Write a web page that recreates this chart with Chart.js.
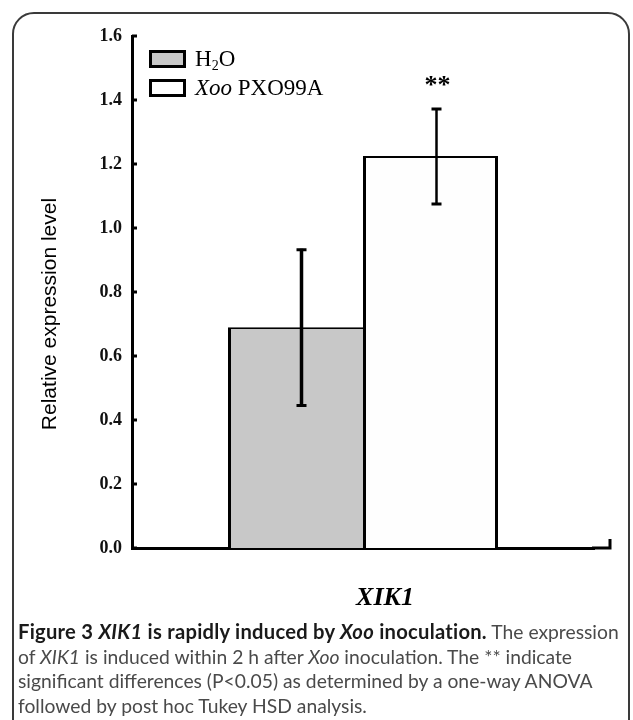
<!DOCTYPE html>
<html>
<head>
<meta charset="utf-8">
<script src="https://cdn.jsdelivr.net/npm/chart.js@4.4.0/dist/chart.umd.min.js"></script>
<style>
    html, body { margin: 0; padding: 0; background: #fff; width: 633px; height: 720px; overflow: hidden; }
    #frame {
        position: absolute; left: 12px; top: 12px; width: 618px; height: 780px;
        border: 2px solid #3a3a3a; border-radius: 22px; box-sizing: border-box;
    }
    #wrap { position: absolute; left: 0; top: 0; width: 633px; height: 620px; }
    .lbox {
        position: absolute; left: 149px; width: 37px; height: 18px;
        border: 3px solid #000; box-sizing: border-box;
    }
    .ltext {
        position: absolute; left: 195px; font-family: "Liberation Serif", serif;
        font-size: 23px; line-height: 22px; color: #000; white-space: nowrap;
    }
    .ltext sub { font-size: 14px; vertical-align: -4px; line-height: 0; }
    #caption {
        position: absolute; left: 18px; top: 619px; font-family: Lato, sans-serif;
        font-size: 19.3px; line-height: 24.5px; color: #4a4a4a; white-space: nowrap;
    }
    #caption b { color: #1a1a1a; font-size: 20.2px; letter-spacing: 0.25px; }
</style>
</head>
<body>
<div id="frame"></div>
<div id="wrap"><canvas id="chart" width="633" height="620"></canvas></div>

<div class="lbox" style="top:50px; background:#c8c8c8;"></div>
<div class="lbox" style="top:79px; background:#fff;"></div>
<div class="ltext" style="top:48px;">H<sub>2</sub>O</div>
<div class="ltext" style="top:77px;"><i>Xoo</i> PXO99A</div>

<div id="caption">
    <div><b>Figure 3 <i>XIK1</i> is rapidly induced by <i>Xoo</i> inoculation.</b> The expression</div>
    <div>of <i>XIK1</i> is induced within 2 h after <i>Xoo</i> inoculation. The ** indicate</div>
    <div>significant differences (P&lt;0.05) as determined by a one-way ANOVA</div>
    <div>followed by post hoc Tukey HSD analysis.</div>
</div>

<script>
// values
const categories = ['XIK1'];
const seriesNames = ['H2O', 'Xoo PXO99A'];
const h2oValues = [0.69];
const h2oErrors = [0.245];
const xooValues = [1.225];
const xooErrors = [0.15];
const yTicks = [0, 0.2, 0.4, 0.6, 0.8, 1.0, 1.2, 1.4, 1.6];
const yTitle = 'Relative expression level';
const marks = ['', '**'];

// error bars, inward ticks and the loose texts
const extrasPlugin = {
    id: 'extras',
    afterDatasetsDraw(chart) {
        const ctx = chart.ctx;
        const y = chart.scales.y;
        const errs = [h2oErrors, xooErrors];
        const vals = [h2oValues, xooValues];
        ctx.save();
        ctx.strokeStyle = '#000';
        chart.data.datasets.forEach((ds, di) => {
            const meta = chart.getDatasetMeta(di);
            meta.data.forEach((bar, i) => {
                const x = bar.x + 6;
                const top = y.getPixelForValue(vals[di][i] + errs[di][i]);
                const bot = y.getPixelForValue(vals[di][i] - errs[di][i]);
                ctx.lineWidth = di === 0 ? 3.5 : 2.5;
                ctx.beginPath();
                ctx.moveTo(x, top);
                ctx.lineTo(x, bot);
                ctx.stroke();
                ctx.lineWidth = 3;
                ctx.beginPath();
                ctx.moveTo(x - 5, top + 1);
                ctx.lineTo(x + 5, top + 1);
                ctx.moveTo(x - 5, bot);
                ctx.lineTo(x + 5, bot);
                ctx.stroke();
                if (marks[di]) {
                    ctx.fillStyle = '#000';
                    ctx.font = 'bold 26px "Liberation Serif"';
                    ctx.textAlign = 'center';
                    ctx.textBaseline = 'alphabetic';
                    ctx.fillText(marks[di], x + 1, top - 15);
                }
            });
        });
        ctx.restore();
    },
    afterDraw(chart) {
        const ctx = chart.ctx;
        const area = chart.chartArea;
        const y = chart.scales.y;
        ctx.save();
        ctx.strokeStyle = '#000';
        ctx.lineWidth = 3;
        // ticks pointing into the plot
        yTicks.forEach(v => {
            const py = y.getPixelForValue(v);
            ctx.beginPath();
            ctx.moveTo(area.left, py);
            ctx.lineTo(area.left + 5, py);
            ctx.stroke();
        });
        // x axis runs past the plot, ending in a short upward tick
        const axisEnd = area.right + 16;
        ctx.beginPath();
        ctx.moveTo(area.right - 2, area.bottom);
        ctx.lineTo(axisEnd, area.bottom);
        ctx.lineTo(axisEnd, area.bottom - 9);
        ctx.stroke();

        ctx.fillStyle = '#000';
        ctx.font = 'bold italic 26px "Liberation Serif"';
        ctx.textAlign = 'center';
        ctx.textBaseline = 'middle';
        ctx.fillText(categories[0], 385, 598);

        ctx.translate(50, 314);
        ctx.rotate(-Math.PI / 2);
        ctx.font = '21px "Liberation Sans"';
        ctx.fillText(yTitle, 0, 0);
        ctx.restore();
    }
};

const ctx = document.getElementById('chart').getContext('2d');
new Chart(ctx, {
    type: 'bar',
    data: {
        labels: categories,
        datasets: [
            {
                label: seriesNames[0],
                data: h2oValues,
                backgroundColor: '#c8c8c8',
                borderColor: '#000',
                borderWidth: { left: 3, top: 2, right: 0, bottom: 0 },
                borderSkipped: 'bottom'
            },
            {
                label: seriesNames[1],
                data: xooValues,
                backgroundColor: '#fefefe',
                borderColor: '#000',
                borderWidth: { left: 3, top: 2, right: 3, bottom: 0 },
                borderSkipped: 'bottom'
            }
        ]
    },
    options: {
        responsive: false,
        animation: false,
        devicePixelRatio: 1,
        layout: { padding: { top: 36, right: 39, bottom: 0, left: 0 } },
        categoryPercentage: 0.5844,
        barPercentage: 1.0,
        plugins: {
            legend: { display: false },
            tooltip: { enabled: false }
        },
        scales: {
            x: {
                grid: { display: false, drawTicks: false },
                border: { display: true, color: '#000', width: 3 },
                ticks: { display: false },
                afterFit(scale) { scale.height = 72; }
            },
            y: {
                min: 0,
                max: 1.6,
                afterBuildTicks(scale) {
                    scale.ticks = yTicks.map(v => ({ value: v }));
                },
                grid: { display: false, drawTicks: false },
                border: { display: true, color: '#000', width: 3 },
                ticks: {
                    padding: 10,
                    color: '#111',
                    font: { family: '"Liberation Serif"', size: 18, weight: 'bold' },
                    callback: v => v.toFixed(1)
                },
                afterFit(scale) { scale.width = 132; }
            }
        }
    },
    plugins: [extrasPlugin]
});
</script>
</body>
</html>
